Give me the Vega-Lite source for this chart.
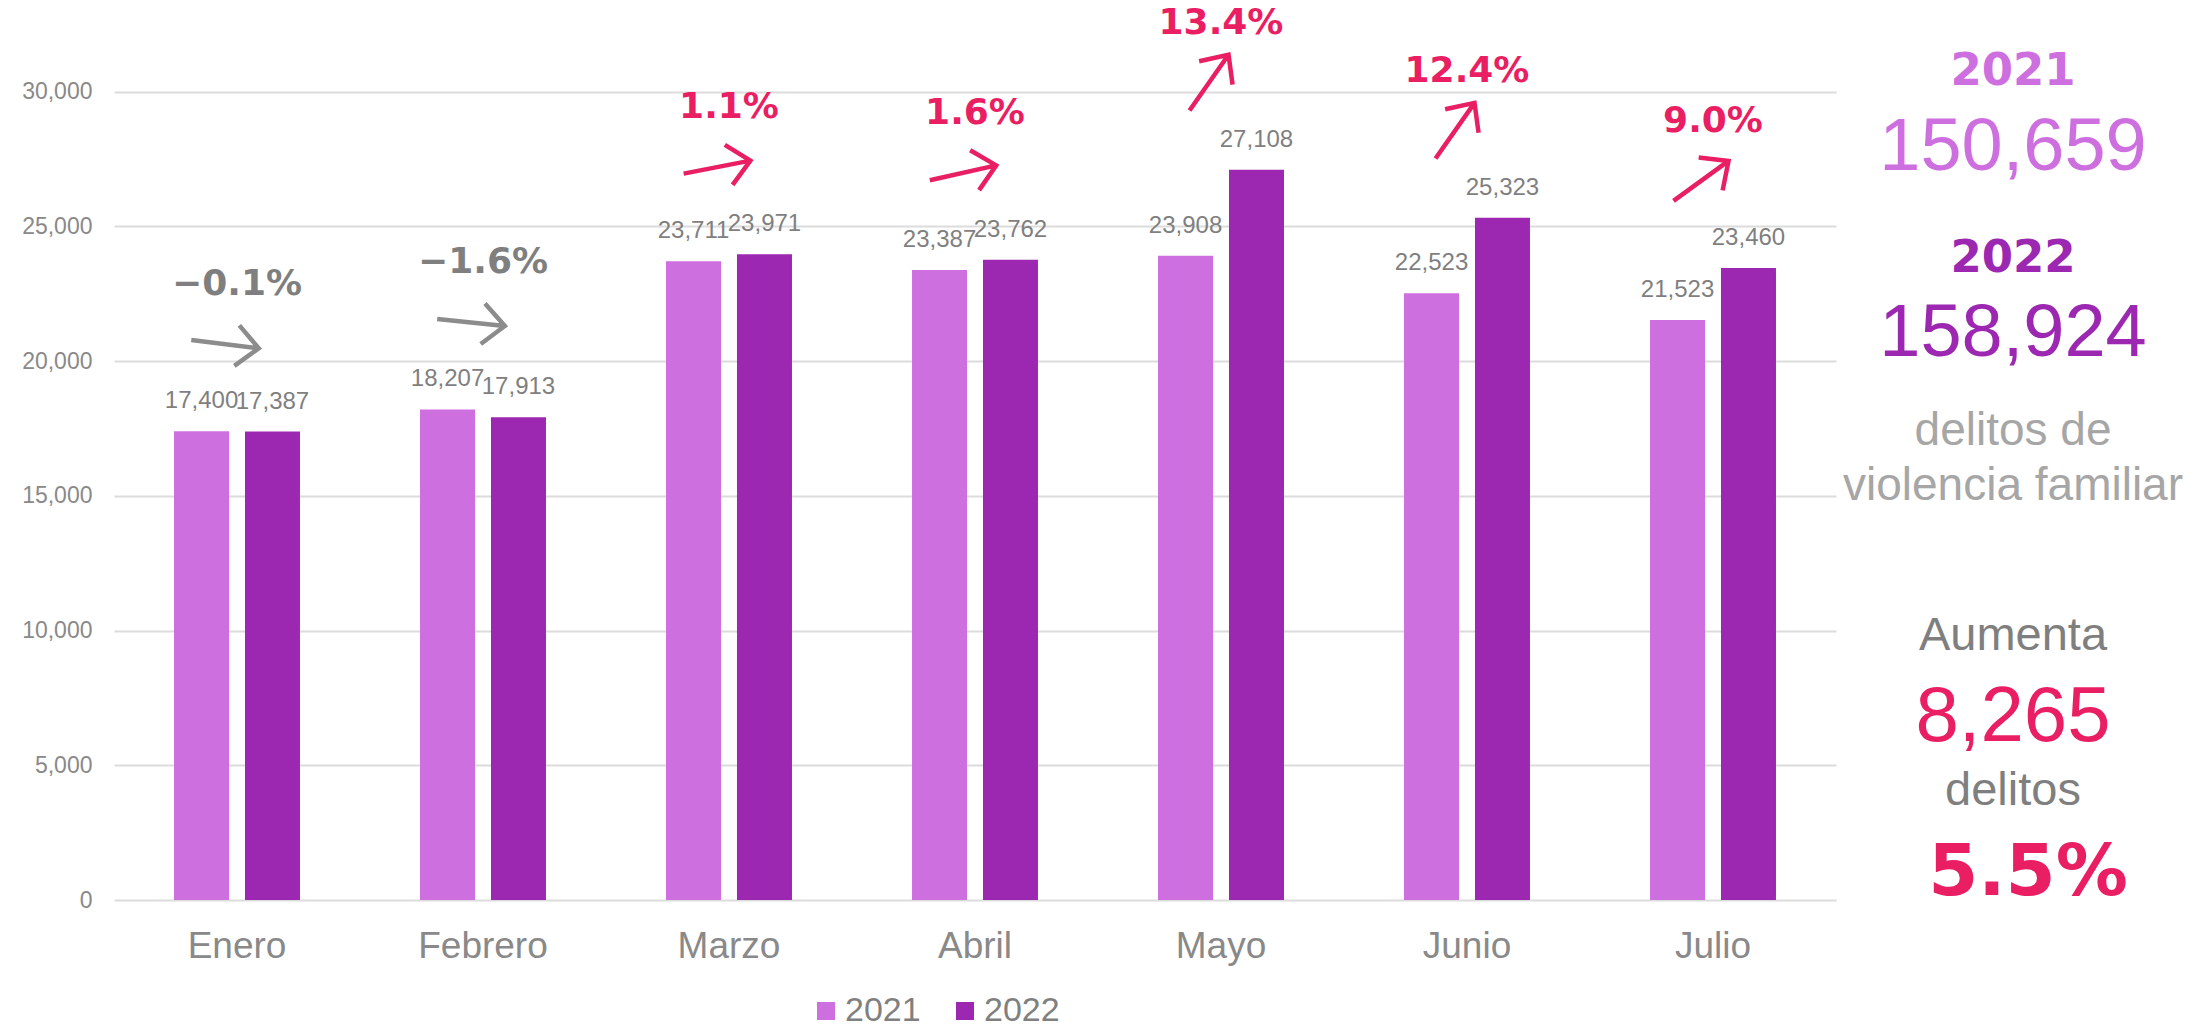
{
  "$schema": "https://vega.github.io/schema/vega-lite/v6.json",
  "padding": {"left": 21, "top": 0, "right": 0, "bottom": 0},
  "background": "white",
  "spacing": 0,
  "config": {"view": {"stroke": null}, "font": "Liberation Sans"},
  "datasets": {
    "delitos": [
      {"mes": "Enero", "anio": "2021", "delitos": 17400},
      {"mes": "Enero", "anio": "2022", "delitos": 17387},
      {"mes": "Febrero", "anio": "2021", "delitos": 18207},
      {"mes": "Febrero", "anio": "2022", "delitos": 17913},
      {"mes": "Marzo", "anio": "2021", "delitos": 23711},
      {"mes": "Marzo", "anio": "2022", "delitos": 23971},
      {"mes": "Abril", "anio": "2021", "delitos": 23387},
      {"mes": "Abril", "anio": "2022", "delitos": 23762},
      {"mes": "Mayo", "anio": "2021", "delitos": 23908},
      {"mes": "Mayo", "anio": "2022", "delitos": 27108},
      {"mes": "Junio", "anio": "2021", "delitos": 22523},
      {"mes": "Junio", "anio": "2022", "delitos": 25323},
      {"mes": "Julio", "anio": "2021", "delitos": 21523},
      {"mes": "Julio", "anio": "2022", "delitos": 23460}
    ],
    "variacion": [
      {"mes": "Enero", "variacion": -0.001},
      {"mes": "Febrero", "variacion": -0.016},
      {"mes": "Marzo", "variacion": 0.011},
      {"mes": "Abril", "variacion": 0.016},
      {"mes": "Mayo", "variacion": 0.134},
      {"mes": "Junio", "variacion": 0.124},
      {"mes": "Julio", "variacion": 0.090}
    ],
    "resumen": [
      {"linea": 1, "texto": "2021"},
      {"linea": 2, "texto": "150,659"},
      {"linea": 3, "texto": "2022"},
      {"linea": 4, "texto": "158,924"},
      {"linea": 5, "texto": "delitos de\nviolencia familiar"},
      {"linea": 7, "texto": "Aumenta"},
      {"linea": 8, "texto": "8,265"},
      {"linea": 9, "texto": "delitos"},
      {"linea": 10, "texto": "5.5%"}
    ]
  },
  "hconcat": [
    {
      "width": 1722,
      "height": 900,
      "data": {"name": "delitos"},
      "encoding": {
        "x": {
          "field": "mes",
          "type": "nominal",
          "scale": {
            "domain": ["Enero", "Febrero", "Marzo", "Abril", "Mayo", "Junio", "Julio"],
            "paddingInner": 0.488,
            "paddingOuter": 0.244
          },
          "axis": {
            "title": null,
            "labelAngle": 0,
            "ticks": false,
            "tickSize": 0,
            "domain": false,
            "labelFontSize": 37,
            "labelColor": "#898989",
            "labelPadding": 28,
            "labelFont": "Liberation Sans"
          }
        }
      },
      "layer": [
        {
          "mark": {"type": "bar"},
          "encoding": {
            "xOffset": {"field": "anio", "type": "nominal", "scale": {"paddingInner": 0.225, "paddingOuter": 0}},
            "y": {
              "field": "delitos",
              "type": "quantitative",
              "title": null,
              "scale": {"domain": [0, 33404], "nice": false, "zero": true},
              "axis": {
                "title": null,
                "values": [0, 5000, 10000, 15000, 20000, 25000, 30000],
                "format": ",.0f",
                "grid": true,
                "gridColor": "#dcdcdc",
                "gridWidth": 2,
                "domain": false,
                "ticks": false,
                "tickSize": 0,
                "labelFontSize": 23,
                "labelColor": "#898989",
                "labelPadding": 22,
                "labelFont": "Liberation Sans"
              }
            },
            "color": {
              "field": "anio",
              "type": "nominal",
              "scale": {"domain": ["2021", "2022"], "range": ["#CE6FE0", "#9C27B0"]},
              "legend": {
                "orient": "none",
                "legendX": 695,
                "legendY": 994,
                "direction": "horizontal",
                "title": null,
                "symbolType": "square",
                "symbolSize": 324,
                "symbolStrokeWidth": 0,
                "labelFontSize": 34,
                "labelColor": "#808080",
                "labelFont": "Liberation Sans",
                "labelOffset": 2,
                "columnPadding": 27
              }
            }
          }
        },
        {
          "mark": {
            "type": "text",
            "dy": -30,
            "baseline": "middle",
            "fontSize": 24,
            "font": "Liberation Sans",
            "color": "#7f7f7f"
          },
          "encoding": {
            "xOffset": {"field": "anio", "type": "nominal"},
            "y": {"field": "delitos", "type": "quantitative", "title": null},
            "text": {"field": "delitos", "type": "quantitative", "format": ","}
          }
        },
        {
          "transform": [
            {"aggregate": [{"op": "max", "field": "delitos", "as": "tope"}], "groupby": ["mes"]},
            {"lookup": "mes", "from": {"data": {"name": "variacion"}, "key": "mes", "fields": ["variacion"]}}
          ],
          "mark": {
            "type": "text",
            "dy": -147,
            "baseline": "middle",
            "fontSize": 36,
            "font": "DejaVu Sans",
            "fontWeight": "bold"
          },
          "encoding": {
            "y": {"field": "tope", "type": "quantitative", "title": null},
            "text": {"field": "variacion", "type": "quantitative", "format": ".1%"},
            "color": {"condition": {"test": "datum.variacion < 0", "value": "#7f7f7f"}, "value": "#E91E63"}
          }
        },
        {
          "transform": [
            {"aggregate": [{"op": "max", "field": "delitos", "as": "tope"}], "groupby": ["mes"]},
            {"lookup": "mes", "from": {"data": {"name": "variacion"}, "key": "mes", "fields": ["variacion"]}}
          ],
          "mark": {
            "type": "point",
            "shape": "M-1,0L1,0M0.35,-0.6L1,0L0.35,0.6",
            "filled": false,
            "size": 4624,
            "strokeWidth": 4.5,
            "opacity": 1
          },
          "encoding": {
            "y": {"field": "tope", "type": "quantitative", "title": null},
            "yOffset": {"value": -87},
            "xOffset": {"value": 51},
            "angle": {
              "field": "variacion",
              "type": "quantitative",
              "scale": {"domain": [-0.016, -0.001, 0.011, 0.09, 0.124], "range": [6, 7, -11, -36, -55], "clamp": true},
              "legend": null
            },
            "stroke": {"condition": {"test": "datum.variacion < 0", "value": "#8c8c8c"}, "value": "#E91E63"}
          }
        }
      ]
    },
    {
      "width": 354,
      "height": 980,
      "data": {"name": "resumen"},
      "encoding": {
        "x": {"datum": "panel", "type": "nominal", "scale": {"type": "point", "padding": 0.5}, "axis": null},
        "y": {
          "field": "linea",
          "type": "ordinal",
          "scale": {"type": "point", "domain": [1, 2, 3, 4, 5, 6, 7, 8, 9, 10], "padding": 0.944},
          "axis": null
        },
        "text": {"field": "texto", "type": "nominal"}
      },
      "layer": [
        {
          "transform": [{"filter": "datum.linea == 1"}],
          "mark": {"type": "text", "baseline": "alphabetic", "font": "DejaVu Sans", "fontWeight": "bold", "fontSize": 45, "color": "#CE6FE0"}
        },
        {
          "transform": [{"filter": "datum.linea == 2"}],
          "mark": {"type": "text", "baseline": "alphabetic", "font": "Liberation Sans", "fontSize": 74, "color": "#CE6FE0", "dy": -5}
        },
        {
          "transform": [{"filter": "datum.linea == 3"}],
          "mark": {"type": "text", "baseline": "alphabetic", "font": "DejaVu Sans", "fontWeight": "bold", "fontSize": 45, "color": "#9C27B0", "dy": 7}
        },
        {
          "transform": [{"filter": "datum.linea == 4"}],
          "mark": {"type": "text", "baseline": "alphabetic", "font": "Liberation Sans", "fontSize": 74, "color": "#9C27B0", "dy": 1}
        },
        {
          "transform": [{"filter": "datum.linea == 5"}],
          "mark": {"type": "text", "baseline": "alphabetic", "font": "Liberation Sans", "fontSize": 46, "color": "#A6A6A6", "lineBreak": "\n", "lineHeight": 55}
        },
        {
          "transform": [{"filter": "datum.linea == 7"}],
          "mark": {"type": "text", "baseline": "alphabetic", "font": "Liberation Sans", "fontSize": 47, "color": "#7f7f7f", "dy": 25}
        },
        {
          "transform": [{"filter": "datum.linea == 8"}],
          "mark": {"type": "text", "baseline": "alphabetic", "font": "Liberation Sans", "fontSize": 78, "color": "#E91E63", "dy": 26}
        },
        {
          "transform": [{"filter": "datum.linea == 9"}],
          "mark": {"type": "text", "baseline": "alphabetic", "font": "Liberation Sans", "fontSize": 47, "color": "#7f7f7f"}
        },
        {
          "transform": [{"filter": "datum.linea == 10"}],
          "mark": {"type": "text", "baseline": "alphabetic", "font": "DejaVu Sans", "fontWeight": "bold", "fontSize": 72, "color": "#E91E63", "dx": 15}
        }
      ]
    }
  ]
}
